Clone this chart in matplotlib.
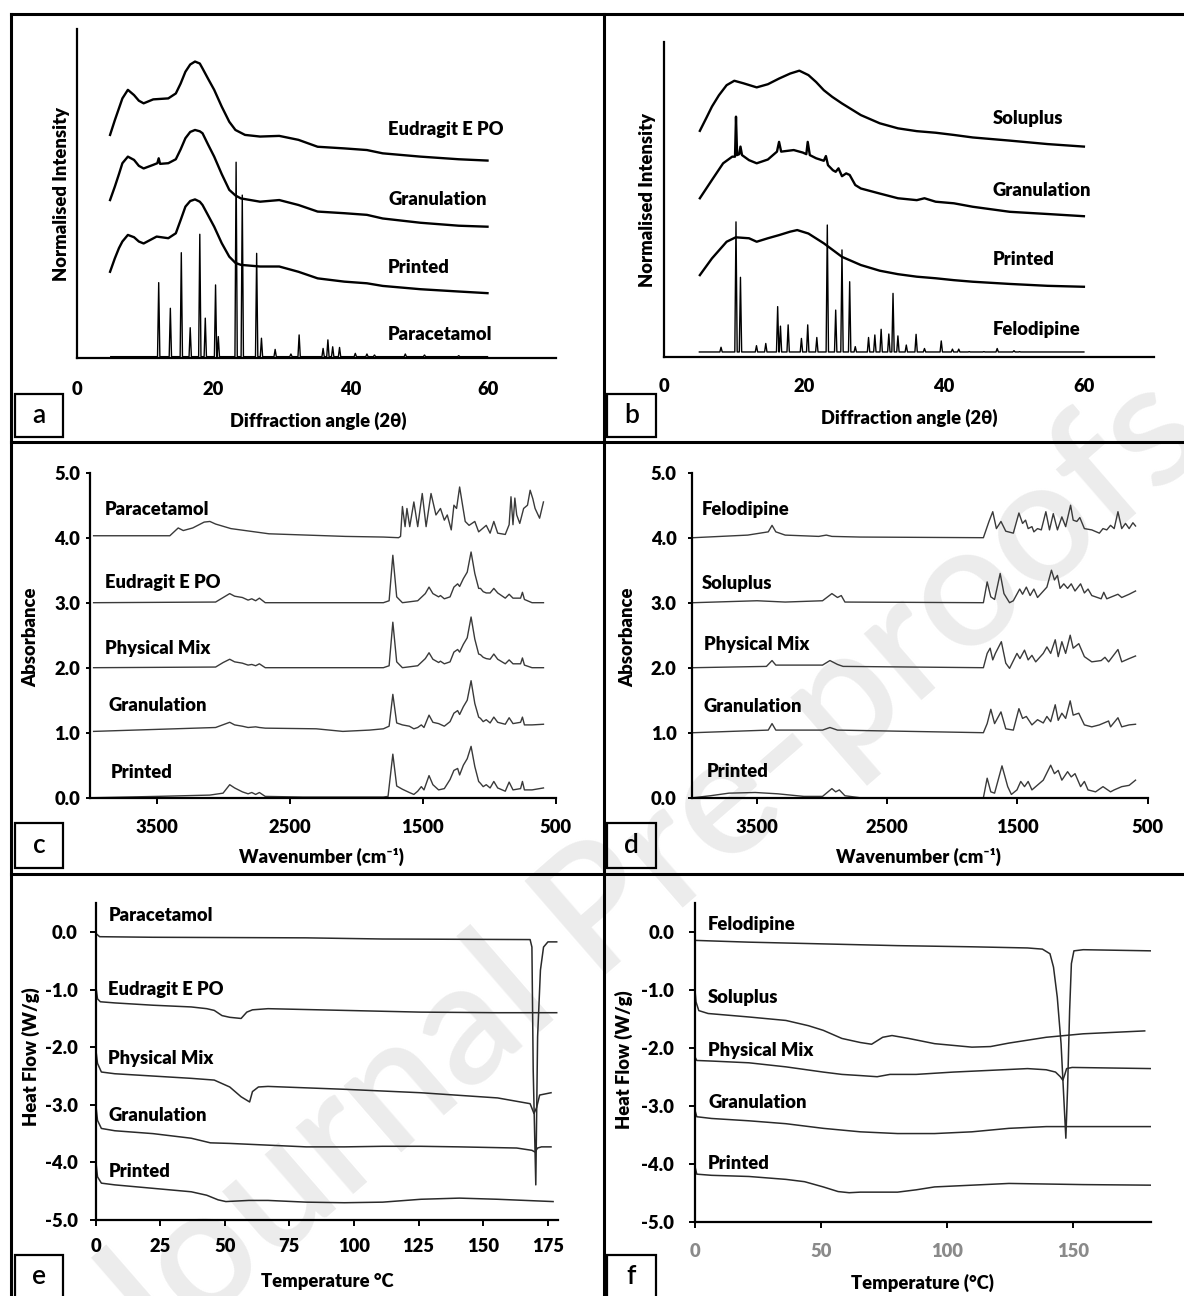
import matplotlib
matplotlib.use('Agg')
import matplotlib.pyplot as plt
from matplotlib.lines import Line2D
from matplotlib.patches import Rectangle

plt.rcParams['font.family'] = ['Lato', 'DejaVu Sans']
plt.rcParams['font.weight'] = 'heavy'
plt.rcParams['axes.unicode_minus'] = False

# ---------------- (a) XRD, Eudragit system ----------------
a_eud_x = [4.9, 5.6, 6.2, 6.7, 7.5, 8.4, 9.1, 9.8, 11.2, 13.4, 14.5, 15.2, 15.9, 16.6, 17.3, 18.0, 18.4, 19.2, 20.1, 21.2, 22.3, 23.2, 24.6, 26.8, 29.6, 32.4, 35.2, 39.1, 42.4, 44.7, 50.2, 55.8, 60.0]
a_eud_y = [67.9, 72.4, 76.0, 79.0, 81.6, 80.0, 78.3, 77.5, 78.7, 79.0, 80.5, 83.5, 87.1, 89.3, 90.2, 89.6, 88.1, 85.0, 81.6, 76.5, 71.9, 69.4, 67.9, 67.4, 67.6, 66.4, 64.3, 63.8, 63.3, 62.3, 61.3, 60.5, 60.1]
a_gran_x = [4.9, 5.6, 6.2, 6.7, 7.5, 8.4, 9.1, 9.8, 11.2, 11.8, 12.0, 12.2, 13.4, 14.5, 15.2, 15.9, 16.6, 17.3, 18.0, 18.4, 19.2, 20.1, 21.2, 22.3, 23.2, 24.0, 26.8, 29.6, 32.4, 35.2, 39.1, 42.4, 44.7, 50.2, 55.8, 60.0]
a_gran_y = [48.1, 52.2, 56.0, 59.3, 61.3, 60.3, 58.5, 57.7, 58.8, 59.3, 60.8, 59.1, 59.3, 60.5, 63.5, 66.9, 68.8, 69.4, 69.0, 68.4, 65.0, 61.3, 56.0, 51.2, 49.5, 48.6, 47.6, 48.1, 46.6, 44.6, 44.1, 43.6, 42.5, 41.2, 40.3, 40.0]
a_print_x = [4.9, 5.6, 6.2, 6.7, 7.5, 8.4, 9.1, 9.8, 11.7, 13.4, 14.5, 15.2, 15.9, 16.6, 17.3, 18.0, 18.4, 19.2, 20.1, 21.2, 22.3, 23.2, 24.0, 26.8, 29.6, 32.4, 35.2, 39.1, 42.4, 44.7, 50.2, 55.8, 60.0]
a_print_y = [26.3, 30.4, 33.5, 35.5, 37.5, 36.8, 35.5, 34.9, 37.0, 36.5, 38.0, 42.0, 46.1, 47.8, 48.3, 47.6, 46.6, 43.5, 40.0, 35.0, 30.9, 29.0, 28.4, 27.9, 27.9, 26.3, 24.3, 23.3, 22.8, 22.0, 21.0, 20.3, 19.8]
a_para_pos = [12.0, 13.7, 15.3, 16.6, 18.0, 18.8, 20.3, 20.7, 23.3, 24.2, 26.3, 27.0, 29.0, 31.3, 32.5, 36.0, 36.7, 37.4, 38.4, 40.7, 42.4, 43.5, 48.0, 50.8, 55.8]
a_para_h = [23.0, 15.2, 32.1, 9.3, 37.7, 12.2, 22.3, 6.6, 59.6, 49.6, 31.9, 6.1, 2.7, 1.3, 7.1, 3.0, 5.6, 3.5, 3.3, 1.5, 1.3, 1.0, 1.3, 1.0, 0.8]
a_names = ['Eudragit E PO', 'Granulation', 'Printed', 'Paracetamol']
a_label_y = [69.4, 48.4, 27.6, 7.3]

# ---------------- (b) XRD, Soluplus system ----------------
b_sol_x = [5.07, 6.0, 6.8, 7.8, 8.9, 10.0, 11.3, 13.2, 14.8, 16.4, 18.0, 19.3, 20.6, 21.7, 22.8, 24.0, 25.4, 28.1, 30.8, 33.4, 36.1, 38.8, 41.4, 44.1, 49.4, 54.8, 60.0]
b_sol_y = [71.7, 75.8, 79.4, 83.0, 86.2, 87.6, 86.8, 85.5, 86.5, 88.3, 89.9, 90.8, 89.4, 87.2, 84.6, 82.5, 80.4, 76.7, 74.1, 72.5, 71.6, 71.1, 70.4, 69.6, 68.6, 67.5, 66.7]
b_gran_x = [5.07, 6.8, 8.4, 9.7, 10.1, 10.24, 10.4, 10.7, 10.88, 11.1, 12.1, 13.2, 14.8, 16.1, 16.4, 16.7, 18.5, 19.8, 20.3, 20.5, 20.8, 21.7, 22.8, 23.1, 23.4, 24.1, 24.5, 24.9, 25.4, 26.0, 26.5, 27.3, 28.1, 30.8, 33.4, 36.1, 37.2, 38.8, 41.4, 44.1, 49.4, 54.8, 60.0]
b_gran_y = [50.3, 56.1, 61.4, 63.5, 63.5, 76.2, 64.0, 64.3, 66.7, 64.0, 62.4, 61.4, 62.6, 65.1, 68.2, 65.1, 65.6, 64.8, 64.3, 68.2, 64.0, 63.0, 62.2, 63.7, 60.8, 59.2, 58.7, 59.8, 57.3, 58.2, 57.7, 54.5, 53.4, 51.8, 50.3, 49.7, 50.3, 49.2, 48.7, 47.6, 46.0, 45.3, 44.6]
b_print_x = [5.07, 6.8, 8.9, 10.2, 12.1, 13.2, 14.8, 16.4, 18.0, 19.0, 20.6, 22.8, 25.4, 28.1, 30.8, 33.4, 36.1, 38.8, 41.4, 44.1, 49.4, 54.8, 60.0]
b_print_y = [25.9, 31.2, 36.5, 37.9, 37.6, 36.5, 37.6, 38.6, 39.7, 40.2, 39.1, 36.0, 31.7, 29.1, 27.3, 26.2, 25.4, 24.9, 24.3, 23.8, 23.1, 22.5, 22.2]
b_felo_pos = [8.1, 10.24, 10.88, 13.17, 14.5, 16.2, 16.6, 17.7, 19.6, 20.5, 21.8, 23.3, 24.5, 25.4, 26.5, 27.3, 29.2, 30.1, 31.0, 32.1, 32.7, 33.4, 34.6, 36.0, 37.2, 39.6, 41.2, 42.1, 43.6, 45.7, 47.6, 50.0, 50.8]
b_felo_h = [3.0, 42.8, 25.2, 3.5, 4.2, 15.9, 9.7, 10.1, 5.8, 10.1, 6.1, 41.8, 14.8, 33.9, 23.8, 3.2, 6.1, 6.9, 8.7, 7.2, 20.1, 6.6, 3.7, 7.1, 2.6, 5.0, 2.4, 2.4, 1.6, 1.6, 2.6, 1.9, 1.6]
b_names = ['Soluplus', 'Granulation', 'Printed', 'Felodipine']
b_label_y = [75.6, 52.9, 30.7, 8.7]

# ---------------- (c) FTIR, Eudragit system ----------------
c_para_x = [3973, 3400, 3337, 3299, 3228, 3142, 3099, 3056, 2941, 2798, 2655, 2368, 2082, 1795, 1681, 1666, 1652, 1632, 1618, 1597, 1566, 1537, 1503, 1474, 1437, 1400, 1366, 1337, 1315, 1285, 1265, 1245, 1222, 1200, 1180, 1151, 1108, 1079, 1022, 993, 965, 936, 879, 850, 836, 821, 807, 793, 770, 741, 712, 692, 672, 655, 621, 592]
c_para_y = [4.03, 4.03, 4.15, 4.11, 4.15, 4.24, 4.25, 4.21, 4.14, 4.10, 4.06, 4.04, 4.02, 4.01, 4.00, 4.02, 4.48, 4.17, 4.45, 4.17, 4.55, 4.17, 4.68, 4.17, 4.68, 4.35, 4.45, 4.27, 4.35, 4.12, 4.50, 4.45, 4.78, 4.50, 4.25, 4.19, 4.25, 4.09, 4.19, 4.07, 4.25, 4.07, 4.05, 4.20, 4.63, 4.20, 4.61, 4.35, 4.22, 4.45, 4.50, 4.73, 4.60, 4.45, 4.30, 4.55]
c_eud_x = [3973, 3056, 2999, 2950, 2913, 2855, 2812, 2784, 2755, 2727, 2683, 1795, 1752, 1724, 1695, 1652, 1537, 1480, 1452, 1423, 1380, 1366, 1337, 1294, 1265, 1237, 1222, 1194, 1165, 1136, 1108, 1079, 1065, 1045, 1022, 993, 965, 936, 879, 850, 821, 764, 750, 735, 678, 592]
c_eud_y = [3.00, 3.01, 3.08, 3.14, 3.10, 3.08, 3.04, 3.06, 3.03, 3.07, 3.00, 3.00, 3.03, 3.73, 3.09, 3.00, 3.03, 3.14, 3.24, 3.14, 3.09, 3.11, 3.06, 3.09, 3.24, 3.29, 3.25, 3.37, 3.47, 3.78, 3.45, 3.22, 3.22, 3.17, 3.15, 3.15, 3.22, 3.15, 3.07, 3.13, 3.07, 3.07, 3.16, 3.05, 3.00, 3.00]
c_pm_x = [3973, 3056, 2999, 2950, 2913, 2855, 2812, 2784, 2755, 2727, 2683, 1795, 1752, 1724, 1695, 1652, 1537, 1480, 1452, 1423, 1380, 1366, 1337, 1294, 1265, 1237, 1222, 1194, 1165, 1136, 1108, 1079, 1065, 1045, 1022, 993, 965, 936, 879, 850, 821, 764, 750, 735, 678, 592]
c_pm_y = [2.00, 2.01, 2.08, 2.13, 2.09, 2.07, 2.04, 2.05, 2.03, 2.06, 2.00, 2.00, 2.03, 2.70, 2.09, 2.00, 2.03, 2.14, 2.23, 2.13, 2.08, 2.10, 2.06, 2.09, 2.24, 2.28, 2.24, 2.36, 2.46, 2.78, 2.44, 2.21, 2.20, 2.16, 2.14, 2.13, 2.21, 2.13, 2.06, 2.12, 2.06, 2.06, 2.15, 2.04, 2.00, 2.00]
c_gran_x = [3973, 3056, 2950, 2913, 2855, 2812, 2755, 2727, 2683, 2300, 2100, 1900, 1795, 1752, 1724, 1695, 1652, 1600, 1566, 1537, 1510, 1490, 1452, 1423, 1380, 1337, 1294, 1265, 1237, 1222, 1194, 1165, 1136, 1108, 1079, 1065, 1045, 1022, 993, 965, 936, 879, 850, 821, 764, 750, 735, 678, 592]
c_gran_y = [1.02, 1.08, 1.16, 1.12, 1.10, 1.08, 1.09, 1.08, 1.07, 1.06, 1.02, 1.04, 1.06, 1.10, 1.59, 1.15, 1.12, 1.10, 1.06, 1.08, 1.12, 1.08, 1.27, 1.16, 1.14, 1.10, 1.17, 1.30, 1.34, 1.28, 1.40, 1.50, 1.80, 1.45, 1.24, 1.22, 1.17, 1.20, 1.15, 1.24, 1.16, 1.13, 1.23, 1.14, 1.16, 1.24, 1.12, 1.12, 1.13]
c_print_x = [3973, 3500, 3100, 3000, 2950, 2913, 2855, 2812, 2784, 2755, 2727, 2683, 2400, 1795, 1760, 1724, 1695, 1652, 1600, 1566, 1537, 1510, 1490, 1452, 1423, 1380, 1337, 1294, 1265, 1237, 1222, 1194, 1165, 1136, 1108, 1079, 1065, 1045, 1022, 993, 965, 936, 879, 850, 821, 764, 750, 735, 678, 592]
c_print_y = [0.00, 0.02, 0.04, 0.07, 0.20, 0.15, 0.09, 0.06, 0.08, 0.05, 0.08, 0.02, 0.01, 0.01, 0.02, 0.67, 0.18, 0.13, 0.08, 0.05, 0.10, 0.17, 0.12, 0.34, 0.20, 0.12, 0.14, 0.28, 0.42, 0.45, 0.35, 0.50, 0.60, 0.79, 0.48, 0.25, 0.22, 0.17, 0.20, 0.15, 0.25, 0.15, 0.10, 0.24, 0.12, 0.14, 0.25, 0.12, 0.12, 0.15]
c_names = ['Paracetamol', 'Eudragit E PO', 'Physical Mix', 'Granulation', 'Printed']
c_label_x = [3887, 3887, 3887, 3864, 3844]
c_label_y = [4.44, 3.31, 2.30, 1.42, 0.39]

# ---------------- (d) FTIR, Soluplus system ----------------
d_felo_x = [3989, 3572, 3414, 3385, 3356, 3284, 3026, 2968, 2925, 2710, 1761, 1718, 1689, 1661, 1626, 1589, 1531, 1488, 1460, 1437, 1417, 1388, 1373, 1345, 1316, 1281, 1253, 1224, 1192, 1158, 1129, 1091, 1071, 1043, 1020, 985, 928, 870, 842, 813, 784, 756, 727, 698, 669, 641, 612, 592]
d_felo_y = [4.00, 4.04, 4.09, 4.19, 4.09, 4.04, 4.02, 4.04, 4.02, 4.01, 4.00, 4.25, 4.40, 4.14, 4.25, 4.10, 4.07, 4.38, 4.22, 4.27, 4.14, 4.17, 4.09, 4.14, 4.12, 4.40, 4.12, 4.37, 4.12, 4.32, 4.17, 4.50, 4.27, 4.25, 4.31, 4.14, 4.12, 4.07, 4.14, 4.12, 4.19, 4.14, 4.40, 4.14, 4.22, 4.14, 4.23, 4.18]
d_sol_x = [3989, 3500, 3284, 2997, 2925, 2882, 2853, 2825, 1761, 1732, 1704, 1675, 1632, 1603, 1560, 1531, 1482, 1460, 1431, 1402, 1373, 1345, 1273, 1238, 1215, 1192, 1172, 1143, 1114, 1086, 1057, 1014, 985, 957, 928, 856, 836, 813, 727, 698, 641, 592]
d_sol_y = [3.00, 3.03, 3.01, 3.03, 3.14, 3.08, 3.11, 3.01, 3.00, 3.32, 3.09, 3.05, 3.45, 3.14, 3.00, 3.03, 3.21, 3.13, 3.24, 3.11, 3.21, 3.08, 3.24, 3.50, 3.35, 3.42, 3.22, 3.29, 3.22, 3.29, 3.18, 3.29, 3.15, 3.21, 3.11, 3.06, 3.16, 3.06, 3.13, 3.08, 3.13, 3.18]
d_pm_x = [3989, 3428, 3385, 3356, 2997, 2940, 2882, 2839, 1761, 1732, 1709, 1689, 1669, 1623, 1589, 1560, 1503, 1480, 1445, 1417, 1388, 1359, 1301, 1273, 1244, 1209, 1186, 1158, 1129, 1094, 1071, 1028, 985, 928, 856, 827, 799, 727, 698, 641, 592]
d_pm_y = [2.00, 2.02, 2.11, 2.04, 2.04, 2.11, 2.05, 2.02, 2.00, 2.22, 2.30, 2.12, 2.22, 2.40, 2.07, 1.99, 2.22, 2.14, 2.27, 2.12, 2.19, 2.09, 2.22, 2.32, 2.22, 2.43, 2.17, 2.40, 2.22, 2.50, 2.30, 2.37, 2.17, 2.09, 2.11, 2.16, 2.09, 2.28, 2.09, 2.14, 2.18]
d_gran_x = [3989, 3414, 3385, 3356, 2997, 2940, 2882, 1761, 1732, 1704, 1675, 1626, 1589, 1531, 1488, 1460, 1431, 1388, 1345, 1301, 1273, 1244, 1209, 1186, 1158, 1129, 1094, 1071, 1028, 985, 928, 870, 799, 784, 727, 698, 641, 592]
d_gran_y = [1.00, 1.04, 1.14, 1.04, 1.04, 1.08, 1.04, 1.00, 1.14, 1.36, 1.14, 1.32, 1.06, 1.04, 1.37, 1.22, 1.25, 1.12, 1.20, 1.15, 1.25, 1.17, 1.43, 1.19, 1.30, 1.22, 1.49, 1.27, 1.30, 1.12, 1.09, 1.12, 1.18, 1.09, 1.23, 1.09, 1.12, 1.13]
d_print_x = [3989, 3859, 3716, 3514, 3342, 3141, 2997, 2925, 2896, 2868, 2825, 2710, 1761, 1732, 1704, 1675, 1618, 1574, 1546, 1503, 1474, 1445, 1417, 1388, 1359, 1301, 1244, 1215, 1186, 1158, 1114, 1086, 1057, 1014, 985, 957, 899, 842, 784, 756, 698, 641, 592]
d_print_y = [0.00, 0.03, 0.07, 0.08, 0.06, 0.02, 0.02, 0.14, 0.09, 0.12, 0.03, 0.00, 0.00, 0.30, 0.09, 0.07, 0.49, 0.17, 0.05, 0.12, 0.25, 0.17, 0.25, 0.12, 0.17, 0.27, 0.50, 0.37, 0.42, 0.27, 0.40, 0.32, 0.37, 0.17, 0.25, 0.12, 0.09, 0.17, 0.09, 0.12, 0.17, 0.19, 0.27]
d_names = ['Felodipine', 'Soluplus', 'Physical Mix', 'Granulation', 'Printed']
d_label_x = [3922, 3922, 3911, 3911, 3888]
d_label_y = [4.43, 3.30, 2.35, 1.40, 0.40]

# ---------------- (e) DSC, Eudragit system ----------------
e_para_x = [0, 1.5, 22.2, 81.5, 111.1, 168.2, 168.9, 169.4, 170.4, 171.1, 172.2, 173.4, 175.1, 178.5]
e_para_y = [-0.02, -0.08, -0.09, -0.10, -0.12, -0.13, -0.26, -2.40, -4.39, -1.82, -0.66, -0.26, -0.17, -0.17]
e_eud_x = [0, 0.7, 1.8, 7.4, 22.2, 37.0, 43.0, 45.9, 48.9, 51.9, 56.3, 58.5, 60.7, 66.7, 96.3, 125.9, 155.6, 178.5]
e_eud_y = [-0.92, -1.16, -1.21, -1.23, -1.27, -1.30, -1.33, -1.36, -1.45, -1.48, -1.50, -1.39, -1.35, -1.33, -1.36, -1.39, -1.40, -1.40]
e_pm_x = [0, 0.7, 2.2, 7.4, 22.2, 37.0, 45.9, 51.9, 56.3, 59.6, 60.7, 63.0, 66.7, 96.3, 125.9, 155.6, 168.2, 169.7, 170.7, 171.9, 176.3]
e_pm_y = [-2.02, -2.28, -2.43, -2.46, -2.50, -2.54, -2.57, -2.69, -2.86, -2.95, -2.77, -2.69, -2.68, -2.73, -2.79, -2.88, -2.98, -3.15, -3.05, -2.83, -2.79]
e_gran_x = [0, 0.7, 2.2, 7.4, 22.2, 37.0, 44.4, 51.9, 66.7, 81.5, 96.3, 111.1, 125.9, 140.7, 163.0, 168.9, 170.1, 171.1, 172.6, 176.3]
e_gran_y = [-2.98, -3.27, -3.41, -3.45, -3.50, -3.58, -3.66, -3.67, -3.70, -3.73, -3.73, -3.72, -3.72, -3.73, -3.75, -3.79, -3.82, -3.75, -3.73, -3.73]
e_print_x = [0, 0.7, 2.2, 7.4, 22.2, 37.0, 43.0, 47.4, 50.4, 59.3, 66.7, 81.5, 96.3, 111.1, 125.9, 140.8, 155.6, 177.1]
e_print_y = [-3.96, -4.25, -4.36, -4.39, -4.45, -4.51, -4.57, -4.65, -4.68, -4.66, -4.66, -4.69, -4.70, -4.69, -4.64, -4.62, -4.64, -4.68]
e_names = ['Paracetamol', 'Eudragit E PO', 'Physical Mix', 'Granulation', 'Printed']
e_label_y = [0.28, -1.0, -2.20, -3.18, -4.15]

# ---------------- (f) DSC, Soluplus system ----------------
f_felo_x = [0.4, 21.4, 50.9, 80.4, 109.9, 132.0, 137.9, 140.9, 142.3, 143.8, 145.3, 146.5, 147.2, 147.9, 148.7, 149.4, 150.4, 154.1, 181.4]
f_felo_y = [-0.14, -0.17, -0.20, -0.23, -0.25, -0.27, -0.29, -0.37, -0.60, -1.12, -1.92, -2.95, -3.55, -2.67, -1.35, -0.54, -0.32, -0.30, -0.32]
f_sol_x = [0, 0.4, 1.5, 5.2, 21.4, 36.1, 45.0, 50.9, 58.3, 65.6, 70.1, 74.5, 78.2, 84.8, 95.1, 109.9, 117.3, 124.6, 139.4, 154.1, 178.5]
f_sol_y = [-1.00, -1.20, -1.35, -1.40, -1.46, -1.52, -1.61, -1.69, -1.83, -1.90, -1.93, -1.81, -1.78, -1.83, -1.92, -1.98, -1.97, -1.91, -1.81, -1.75, -1.70]
f_pm_x = [0, 0.7, 6.6, 21.4, 36.1, 50.9, 58.3, 65.6, 72.3, 77.4, 87.8, 102.5, 117.3, 132.0, 139.4, 143.1, 145.0, 146.0, 146.8, 147.5, 149.7, 181.4]
f_pm_y = [-2.15, -2.21, -2.22, -2.25, -2.32, -2.41, -2.45, -2.47, -2.49, -2.45, -2.45, -2.41, -2.38, -2.35, -2.37, -2.41, -2.49, -2.55, -2.45, -2.35, -2.33, -2.35]
f_gran_x = [0, 0.7, 6.6, 21.4, 36.1, 50.9, 65.6, 80.4, 95.1, 109.9, 124.6, 139.4, 154.1, 181.4]
f_gran_y = [-3.07, -3.18, -3.21, -3.25, -3.30, -3.38, -3.44, -3.47, -3.47, -3.44, -3.38, -3.35, -3.35, -3.35]
f_print_x = [0, 0.7, 6.6, 21.4, 36.1, 43.5, 50.9, 56.8, 61.2, 65.6, 80.4, 87.8, 95.1, 109.9, 124.6, 139.4, 154.1, 181.4]
f_print_y = [-4.04, -4.17, -4.19, -4.21, -4.26, -4.30, -4.39, -4.47, -4.49, -4.48, -4.48, -4.44, -4.39, -4.36, -4.33, -4.34, -4.35, -4.36]
f_names = ['Felodipine', 'Soluplus', 'Physical Mix', 'Granulation', 'Printed']
f_label_y = [0.14, -1.12, -2.04, -2.94, -3.99]

W, H = 1184, 1296
fig = plt.figure(figsize=(W / 100, H / 100), dpi=100)
FS = 13.2


def px_axes(l, r, t, b):
    ax = fig.add_axes([l / W, 1 - b / H, (r - l) / W, (b - t) / H])
    ax.patch.set_alpha(0)
    ax.spines['top'].set_visible(False)
    ax.spines['right'].set_visible(False)
    ax.spines['left'].set_linewidth(1.6)
    ax.spines['bottom'].set_linewidth(1.6)
    ax.tick_params(labelsize=FS, width=1.4, length=4)
    return ax


def sticks(start, end, base, pos, hts, hw=0.17):
    xs, ys = [start], [base]
    for p, h in zip(pos, hts):
        xs += [p - hw, p, p + hw]
        ys += [base, h, base]
    xs.append(end)
    ys.append(base)
    return xs, ys


def fig_text(x, y, s, **kw):
    fig.text(x / W, 1 - y / H, s, ha='center', va='center', fontsize=FS, fontweight='heavy', **kw)


# watermark
fig.text(0.545, 0.325, 'Journal Pre-proofs', rotation=41, fontsize=124, color='#ececec',
         fontweight='semibold', ha='center', va='center', zorder=-5)

# panel frame lines
for x0, y0, x1, y1 in [(11, 14, 1184, 14), (11, 14, 11, 1296), (604, 14, 604, 1296),
                       (11, 442, 1184, 442), (11, 874, 1184, 874)]:
    fig.add_artist(Line2D([x0 / W, x1 / W], [1 - y0 / H, 1 - y1 / H], transform=fig.transFigure,
                          color='black', lw=2.2))

# letter boxes
for letter, (bx0, bx1, by0, by1) in zip('abcdef', [(15, 63, 394, 437), (607, 656, 394, 437),
                                                  (15, 63, 823, 868), (607, 656, 823, 868),
                                                  (15, 63, 1255, 1300), (607, 656, 1255, 1300)]):
    fig.add_artist(Rectangle((bx0 / W, 1 - by1 / H), (bx1 - bx0) / W, (by1 - by0) / H,
                             transform=fig.transFigure, fill=False, lw=1.6, color='black'))
    fig.text((bx0 + bx1) / 2 / W, 1 - min((by0 + by1) / 2, 1276) / H, letter, ha='center',
             va='center', fontsize=19, fontweight='semibold')

# ---- (a)
ax = px_axes(76.5, 556, 29.3, 358.3)
ax.plot(a_eud_x, a_eud_y, color='black', lw=1.7)
ax.plot(a_gran_x, a_gran_y, color='black', lw=1.7)
ax.plot(a_print_x, a_print_y, color='black', lw=1.7)
px, py = sticks(5, 60, 0.5, a_para_pos, a_para_h)
ax.plot(px, py, color='black', lw=1.0)
for name, y in zip(a_names, a_label_y):
    ax.text(45.5, y, name, fontsize=FS, fontweight='heavy', va='center')
ax.set_xlim(0, 70)
ax.set_ylim(0, 100)
ax.set_xticks([0, 20, 40, 60])
ax.set_yticks([])
ax.tick_params(axis='x', length=0, pad=16)
fig_text(318, 421, 'Diffraction angle (2θ)')
fig_text(61, 194, 'Normalised Intensity', rotation=90)

# ---- (b)
ax = px_axes(664.4, 1153.8, 41.7, 356.7)
ax.plot(b_sol_x, b_sol_y, color='black', lw=1.7)
ax.plot(b_gran_x, b_gran_y, color='black', lw=1.7)
ax.plot(b_print_x, b_print_y, color='black', lw=1.7)
px, py = sticks(5, 60, 1.5, b_felo_pos, b_felo_h)
ax.plot(px, py, color='black', lw=1.0)
for name, y in zip(b_names, b_label_y):
    ax.text(47.0, y, name, fontsize=FS, fontweight='heavy', va='center')
ax.set_xlim(0, 70)
ax.set_ylim(0, 100)
ax.set_xticks([0, 20, 40, 60])
ax.set_yticks([])
ax.tick_params(axis='x', length=0, pad=15)
fig_text(909, 418, 'Diffraction angle (2θ)')
fig_text(648, 200, 'Normalised Intensity', rotation=90)

# ---- (c)
ax = px_axes(90, 555.7, 472.7, 797.7)
for xs, ys in [(c_para_x, c_para_y), (c_eud_x, c_eud_y), (c_pm_x, c_pm_y),
               (c_gran_x, c_gran_y), (c_print_x, c_print_y)]:
    ax.plot(xs, ys, color='#3a3a3a', lw=1.0)
for name, x, y in zip(c_names, c_label_x, c_label_y):
    ax.text(x, y, name, fontsize=FS, fontweight='heavy', va='center')
ax.set_xlim(4000, 500)
ax.set_ylim(0, 5)
ax.set_xticks([3500, 2500, 1500, 500])
ax.set_yticks([0, 1, 2, 3, 4, 5])
ax.set_yticklabels(['%.1f' % v for v in [0, 1, 2, 3, 4, 5]])
ax.tick_params(axis='x', length=4, pad=11)
ax.tick_params(axis='y', length=3, pad=4)
fig_text(321, 857, 'Wavenumber (cm⁻¹)')
fig_text(31, 637, 'Absorbance', rotation=90)

# ---- (d)
ax = px_axes(692, 1147.5, 472.7, 797.7)
for xs, ys in [(d_felo_x, d_felo_y), (d_sol_x, d_sol_y), (d_pm_x, d_pm_y),
               (d_gran_x, d_gran_y), (d_print_x, d_print_y)]:
    ax.plot(xs, ys, color='#3a3a3a', lw=1.0)
for name, x, y in zip(d_names, d_label_x, d_label_y):
    ax.text(x, y, name, fontsize=FS, fontweight='heavy', va='center')
ax.set_xlim(4000, 500)
ax.set_ylim(0, 5)
ax.set_xticks([3500, 2500, 1500, 500])
ax.set_yticks([0, 1, 2, 3, 4, 5])
ax.set_yticklabels(['%.1f' % v for v in [0, 1, 2, 3, 4, 5]])
ax.tick_params(axis='x', length=4, pad=11)
ax.tick_params(axis='y', length=3, pad=8)
fig_text(918, 857, 'Wavenumber (cm⁻¹)')
fig_text(628, 637, 'Absorbance', rotation=90)

# ---- (e)
ax = px_axes(95.7, 558, 903.3, 1220)
for xs, ys in [(e_para_x, e_para_y), (e_eud_x, e_eud_y), (e_pm_x, e_pm_y),
               (e_gran_x, e_gran_y), (e_print_x, e_print_y)]:
    ax.plot(xs, ys, color='#2a2a2a', lw=1.1)
for name, y in zip(e_names, e_label_y):
    ax.text(4.9, y, name, fontsize=FS, fontweight='heavy', va='center')
ax.set_xlim(0, 179)
ax.set_ylim(-5, 0.5)
ax.set_xticks([0, 25, 50, 75, 100, 125, 150, 175])
ax.set_yticks([0, -1, -2, -3, -4, -5])
ax.set_yticklabels(['%.1f' % v for v in [0, -1, -2, -3, -4, -5]])
ax.tick_params(axis='x', length=4, pad=9)
ax.tick_params(axis='y', length=4, pad=9)
fig_text(327, 1281, 'Temperature °C')
fig_text(31, 1057, 'Heat Flow (W/g)', rotation=90)

# ---- (f)
ax = px_axes(695, 1151, 903.3, 1222.3)
for xs, ys in [(f_felo_x, f_felo_y), (f_sol_x, f_sol_y), (f_pm_x, f_pm_y),
               (f_gran_x, f_gran_y), (f_print_x, f_print_y)]:
    ax.plot(xs, ys, color='#2a2a2a', lw=1.1)
for name, y in zip(f_names, f_label_y):
    ax.text(5.2, y, name, fontsize=FS, fontweight='heavy', va='center')
ax.set_xlim(0, 181)
ax.set_ylim(-5, 0.5)
ax.set_xticks([0, 50, 100, 150])
ax.set_yticks([0, -1, -2, -3, -4, -5])
ax.set_yticklabels(['%.1f' % v for v in [0, -1, -2, -3, -4, -5]])
ax.tick_params(axis='x', length=4, pad=11, labelcolor='#8a8a8a')
ax.tick_params(axis='y', length=4, pad=11)
fig_text(922, 1283, 'Temperature (°C)')
fig_text(624, 1060, 'Heat Flow (W/g)', rotation=90)

fig.savefig('out.png', dpi=100)
